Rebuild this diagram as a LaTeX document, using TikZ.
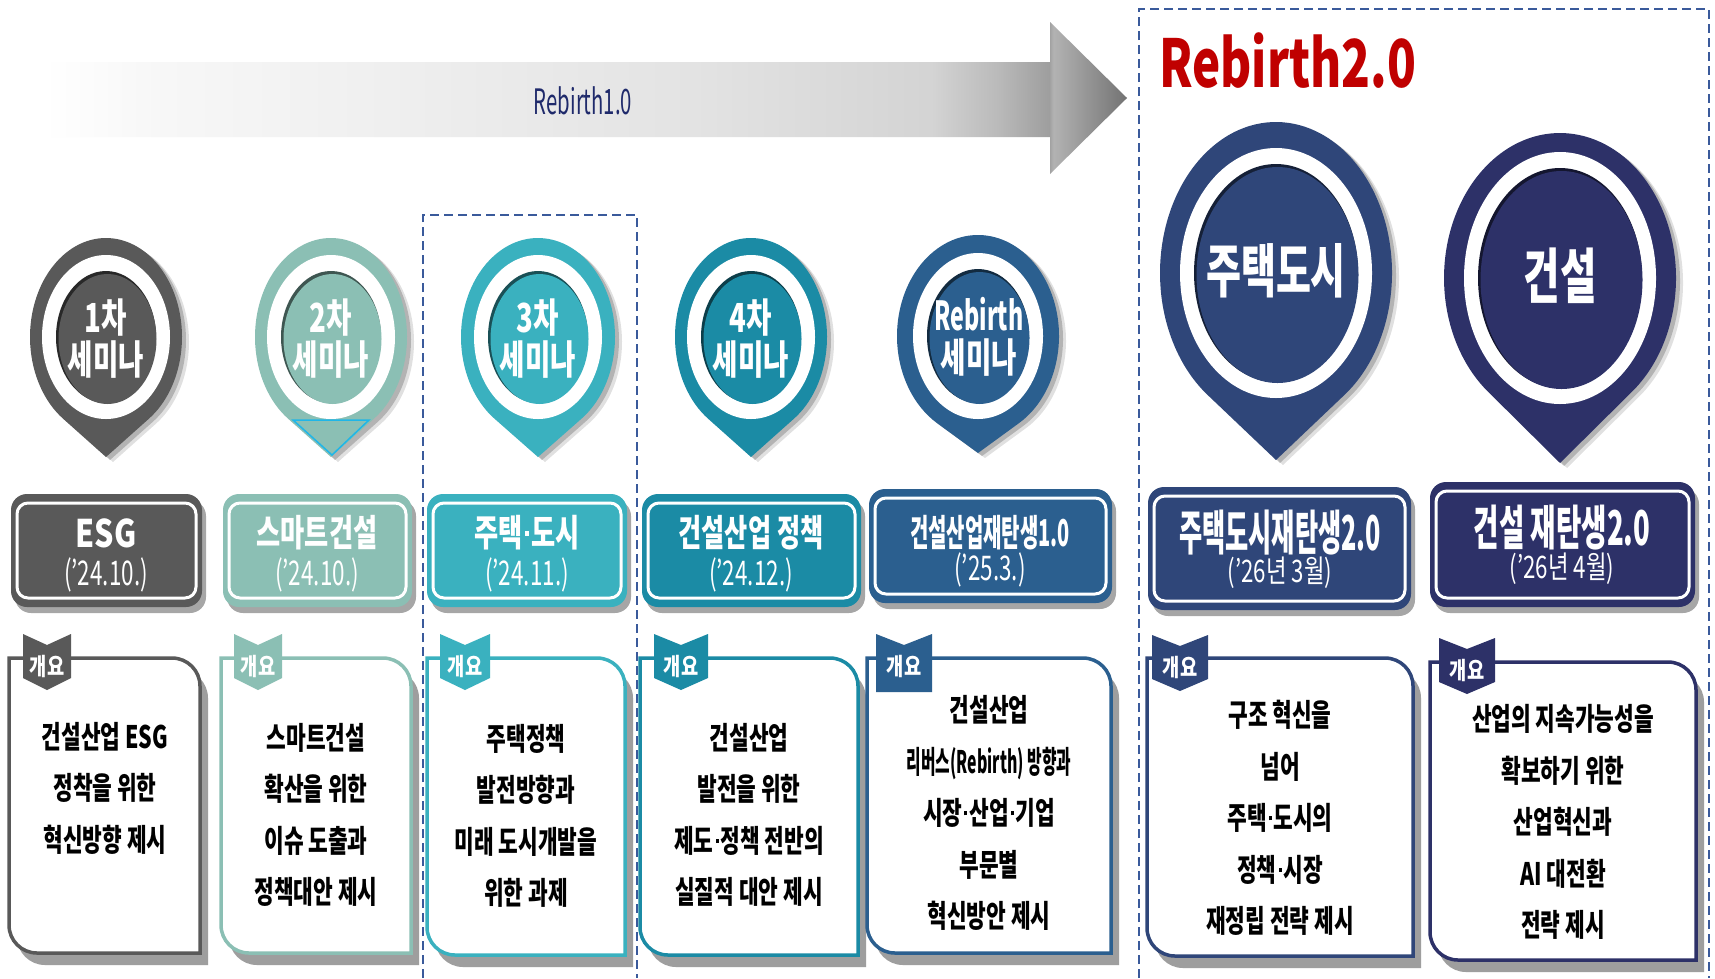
\documentclass[tikz,border=0pt]{standalone}
\usepackage{fontspec}
\newfontfamily\kr{Noto Sans CJK KR}
\newcommand\sx[2]{\scalebox{#1}[1]{#2}}
\newcommand\bl[1]{\sx{.69}{#1}}
\newcommand\md{\hspace{.09em}\raisebox{.3em}{\rule{.14em}{.14em}}\hspace{.09em}}
\definecolor{c1}{HTML}{595959}
\definecolor{c2}{HTML}{8BBFB4}
\definecolor{c3}{HTML}{3AB1BF}
\definecolor{c4}{HTML}{1B8BA5}
\definecolor{c5}{HTML}{2B5F8F}
\definecolor{c6}{HTML}{2F4679}
\definecolor{c7}{HTML}{2D3168}
\definecolor{redt}{HTML}{C00000}
\definecolor{navyt}{HTML}{1F2A6B}
\definecolor{dashc}{HTML}{3A5A9B}
\definecolor{cyanl}{HTML}{1FB6E8}
\pgfdeclarehorizontalshading{arrowshade}{100bp}{color(0bp)=(white); color(25bp)=(white); color(30bp)=(black!3); color(40bp)=(black!6); color(55bp)=(black!11); color(66bp)=(black!17); color(69bp)=(black!27); color(71.4bp)=(black!38); color(71.6bp)=(black!30); color(75bp)=(black!55); color(100bp)=(black!55)}
\tikzset{
 pintxt/.style={text=white, font=\kr\bfseries\fontsize{40}{42}\selectfont, align=center, inner sep=0pt},
 ttl/.style={text=white, font=\kr\bfseries\fontsize{37}{40}\selectfont, inner sep=0pt},
 dt/.style={text=white, font=\kr\fontsize{34}{38}\selectfont, inner sep=0pt},
 body/.style={text=black, font=\kr\bfseries\fontsize{31}{51.5}\selectfont, align=center, inner sep=0pt},
 tagtxt/.style={text=white, font=\kr\bfseries\fontsize{24}{26}\selectfont, inner sep=0pt},
 divline/.style={draw=dashc, line width=2pt, dash pattern=on 9pt off 5pt}
}
% pin: cx, cy, rx, ry, tipy, color, ring rx, ring ry
\newcommand\pin[8]{%
 \pgfmathsetmacro\pd{#5-#2}%
 \pgfmathsetmacro\pyt{#4/\pd*#4}%
 \pgfmathsetmacro\pxt{#3*sqrt(1-(\pyt/#4)^2)}%
 \pgfmathsetmacro\pa{asin(\pyt/#4)}%
 \pgfmathsetmacro\pb{-180-\pa}%
 \fill[black,opacity=.12] (#1+\pxt+7,#2+\pyt+5) arc[start angle=\pa, end angle=\pb, x radius=#3, y radius=#4] -- (#1+7,#5+5) -- cycle;
 \fill[black,opacity=.2] (#1+\pxt+4,#2+\pyt+3) arc[start angle=\pa, end angle=\pb, x radius=#3, y radius=#4] -- (#1+4,#5+3) -- cycle;
 \fill[#6] (#1+\pxt,#2+\pyt) arc[start angle=\pa, end angle=\pb, x radius=#3, y radius=#4] -- (#1,#5) -- cycle;
 \fill[white] (#1,#2) ellipse[x radius=#7, y radius=#8];
 \fill[black!55!#6] (#1,#2) ellipse[x radius=#7-14, y radius=#8-16];
 \fill[#6] (#1+1.5,#2+2) ellipse[x radius=#7-15, y radius=#8-17];
}
% title box
\newcommand\tbox[5]{%
 \fill[black,opacity=.35,rounded corners=16pt] (#1+4,#2+6) rectangle (#3+4,#4+6);
 \fill[#5,rounded corners=16pt] (#1,#2) rectangle (#3,#4);
 \draw[white,line width=3pt,rounded corners=11pt] (#1+6,#2+9) rectangle (#3-6,#4-9);
}
% outline box
\newcommand\obox[5]{%
 \fill[black!38] (#1+8,#2+12) -- (#3+8-28,#2+12) arc[start angle=-90,end angle=0,radius=28] -- (#3+8,#4+12) -- (#1+8+28,#4+12) arc[start angle=90,end angle=180,radius=28] -- cycle;
 \filldraw[fill=white,draw=#5,line width=3.5pt] (#1,#2) -- (#3-28,#2) arc[start angle=-90,end angle=0,radius=28] -- (#3,#4) -- (#1+28,#4) arc[start angle=90,end angle=180,radius=28] -- cycle;
}
% tag: cx, top, half width, color
\newcommand\tagp[4]{%
 \fill[#4] (#1-#3,#2) -- (#1,#2+11) -- (#1+#3,#2) -- (#1+#3,#2+44) -- (#1,#2+56) -- (#1-#3,#2+44) -- cycle;
}
\begin{document}
\begin{tikzpicture}[x=1pt,y=-1pt]
\useasboundingbox (0,0) rectangle (1715,978);
\fill[white] (0,0) rectangle (1715,978);

% big arrow
\shade[shading=arrowshade] (44,62) -- (1050,62) -- (1050,22) -- (1127,98) -- (1050,174) -- (1050,137) -- (44,137) -- cycle;
\node[text=navyt, font=\kr\fontsize{35}{38}\selectfont, inner sep=0pt] (r1) at (583,101) {\sx{.58}{Rebirth1.0}};

% dashed frames
\draw[divline] (1139,978) -- (1139,9) -- (1709,9) -- (1709,978);
\draw[divline] (423,978) -- (423,215) -- (637,215) -- (637,978);

\node[anchor=west, text=redt, font=\kr\bfseries\fontsize{66}{70}\selectfont, inner sep=0pt] (r2) at (1159,61) {\sx{.72}{Rebirth2.0}};

% pins
\pin{106}{337}{76}{99}{457}{c1}{64}{82}
\pin{331}{337}{76}{99}{457}{c2}{64}{82}
\pin{538}{337}{77}{99}{457}{c3}{64}{82}
\pin{751}{337}{76}{99}{457}{c4}{64}{82}
\pin{978}{336}{81}{101}{453}{c5}{65}{83}
\pin{1276}{273}{116}{151}{460}{c6}{96}{125}
\pin{1560}{278}{116}{145}{463}{c7}{96}{126}
\draw[cyanl, line width=1.5pt] (293,420) -- (369,420) -- (332,455) -- cycle;

\node[pintxt] (p1) at (106,339) {\bl{1차}\\\bl{세미나}};
\node[pintxt] (p2) at (331,339) {\bl{2차}\\\bl{세미나}};
\node[pintxt] (p3) at (538,339) {\bl{3차}\\\bl{세미나}};
\node[pintxt] (p4) at (751,339) {\bl{4차}\\\bl{세미나}};
\node[pintxt] (p5) at (979,337) {\sx{.58}{Rebirth}\\\bl{세미나}};
\node[text=white, font=\kr\bfseries\fontsize{58}{62}\selectfont, inner sep=0pt] (p6) at (1276,271) {\sx{.655}{주택도시}};
\node[text=white, font=\kr\bfseries\fontsize{60}{64}\selectfont, inner sep=0pt] (p7) at (1560,276) {\sx{.66}{건설}};

% title boxes
\tbox{11}{494}{202}{607}{c1}
\tbox{223}{494}{412}{607}{c2}
\tbox{427}{494}{627}{607}{c3}
\tbox{642}{494}{861}{607}{c4}
\tbox{869}{489}{1112}{603}{c5}
\tbox{1148}{487}{1411}{610}{c6}
\tbox{1430}{482}{1695}{607}{c7}

\node[ttl, font=\kr\bfseries\fontsize{38}{40}\selectfont] (t1) at (106,533) {\sx{.8}{ESG}};
\node[dt] (d1) at (106,575) {\sx{.66}{(’24.10.)}};
\node[ttl] (t2) at (317,533) {\sx{.71}{스마트건설}};
\node[dt] (d2) at (317,575) {\sx{.66}{(’24.10.)}};
\node[ttl] (t3) at (527,533) {\sx{.71}{주택\md 도시}};
\node[dt] (d3) at (527,575) {\sx{.66}{(’24.11.)}};
\node[ttl] (t4) at (751,533) {\sx{.68}{건설산업 정책}};
\node[dt] (d4) at (751,575) {\sx{.66}{(’24.12.)}};
\node[ttl] (t5) at (990,533) {\sx{.54}{건설산업재탄생1.0}};
\node[dt] (d5) at (990,570) {\sx{.66}{(’25.3.)}};
\node[ttl, font=\kr\bfseries\fontsize{48}{50}\selectfont] (t6) at (1280,533) {\sx{.525}{주택도시재탄생2.0}};
\node[dt, font=\kr\fontsize{31}{34}\selectfont] (d6) at (1280,573) {\sx{.72}{(’26년 3월)}};
\node[ttl, font=\kr\bfseries\fontsize{48}{50}\selectfont] (t7) at (1562,528) {\sx{.575}{건설 재탄생2.0}};
\node[dt, font=\kr\fontsize{31}{34}\selectfont] (d7) at (1562,569) {\sx{.72}{(’26년 4월)}};

% outline boxes
\obox{9}{658}{200}{953}{c1}
\obox{221}{658}{411}{953}{c2}
\obox{427}{658}{625}{955}{c3}
\obox{640}{658}{858}{955}{c4}
\obox{867}{658}{1111}{953}{c5}
\obox{1147}{658}{1413}{956}{c6}
\obox{1430}{662}{1696}{960}{c7}

% tags
\tagp{47}{634}{24}{c1}
\tagp{258}{634}{24}{c2}
\tagp{465}{634}{25}{c3}
\tagp{681}{634}{27}{c4}
\fill[c5] (876,634) -- (904,645) -- (932,634) -- (932,692) -- (876,692) -- cycle;
\tagp{1180}{635}{28}{c6}
\tagp{1467}{638}{28}{c7}
\node[tagtxt] (g1) at (47,666) {\sx{.78}{개요}};
\node[tagtxt] (g2) at (258,666) {\sx{.78}{개요}};
\node[tagtxt] (g3) at (465,666) {\sx{.78}{개요}};
\node[tagtxt] (g4) at (681,666) {\sx{.78}{개요}};
\node[tagtxt] (g5) at (904,666) {\sx{.78}{개요}};
\node[tagtxt] (g6) at (1180,667) {\sx{.78}{개요}};
\node[tagtxt] (g7) at (1467,670) {\sx{.78}{개요}};

% body texts
\node[body] (b1) at (105,788) {\bl{건설산업 ESG}\\\bl{정착을 위한}\\\bl{혁신방향 제시}};
\node[body] (b2) at (316,815) {\bl{스마트건설}\\\bl{확산을 위한}\\\bl{이슈 도출과}\\\bl{정책대안 제시}};
\node[body] (b3) at (526,816) {\bl{주택정책}\\\bl{발전방향과}\\\bl{미래 도시개발을}\\\bl{위한 과제}};
\node[body] (b4) at (749,815) {\bl{건설산업}\\\bl{발전을 위한}\\\bl{제도\md 정책 전반의}\\\bl{실질적 대안 제시}};
\node[body] (b5) at (989,813) {\bl{건설산업}\\\sx{.51}{리버스(Rebirth) 방향과}\\\bl{시장\md 산업\md 기업}\\\bl{부문별}\\\bl{혁신방안 제시}};
\node[body] (b6) at (1280,818) {\bl{구조 혁신을}\\\bl{넘어}\\\bl{주택\md 도시의}\\\bl{정책\md 시장}\\\bl{재정립 전략 제시}};
\node[body] (b7) at (1563,822) {\bl{산업의 지속가능성을}\\\bl{확보하기 위한}\\\bl{산업혁신과}\\\bl{AI 대전환}\\\bl{전략 제시}};
\end{tikzpicture}
\end{document}
